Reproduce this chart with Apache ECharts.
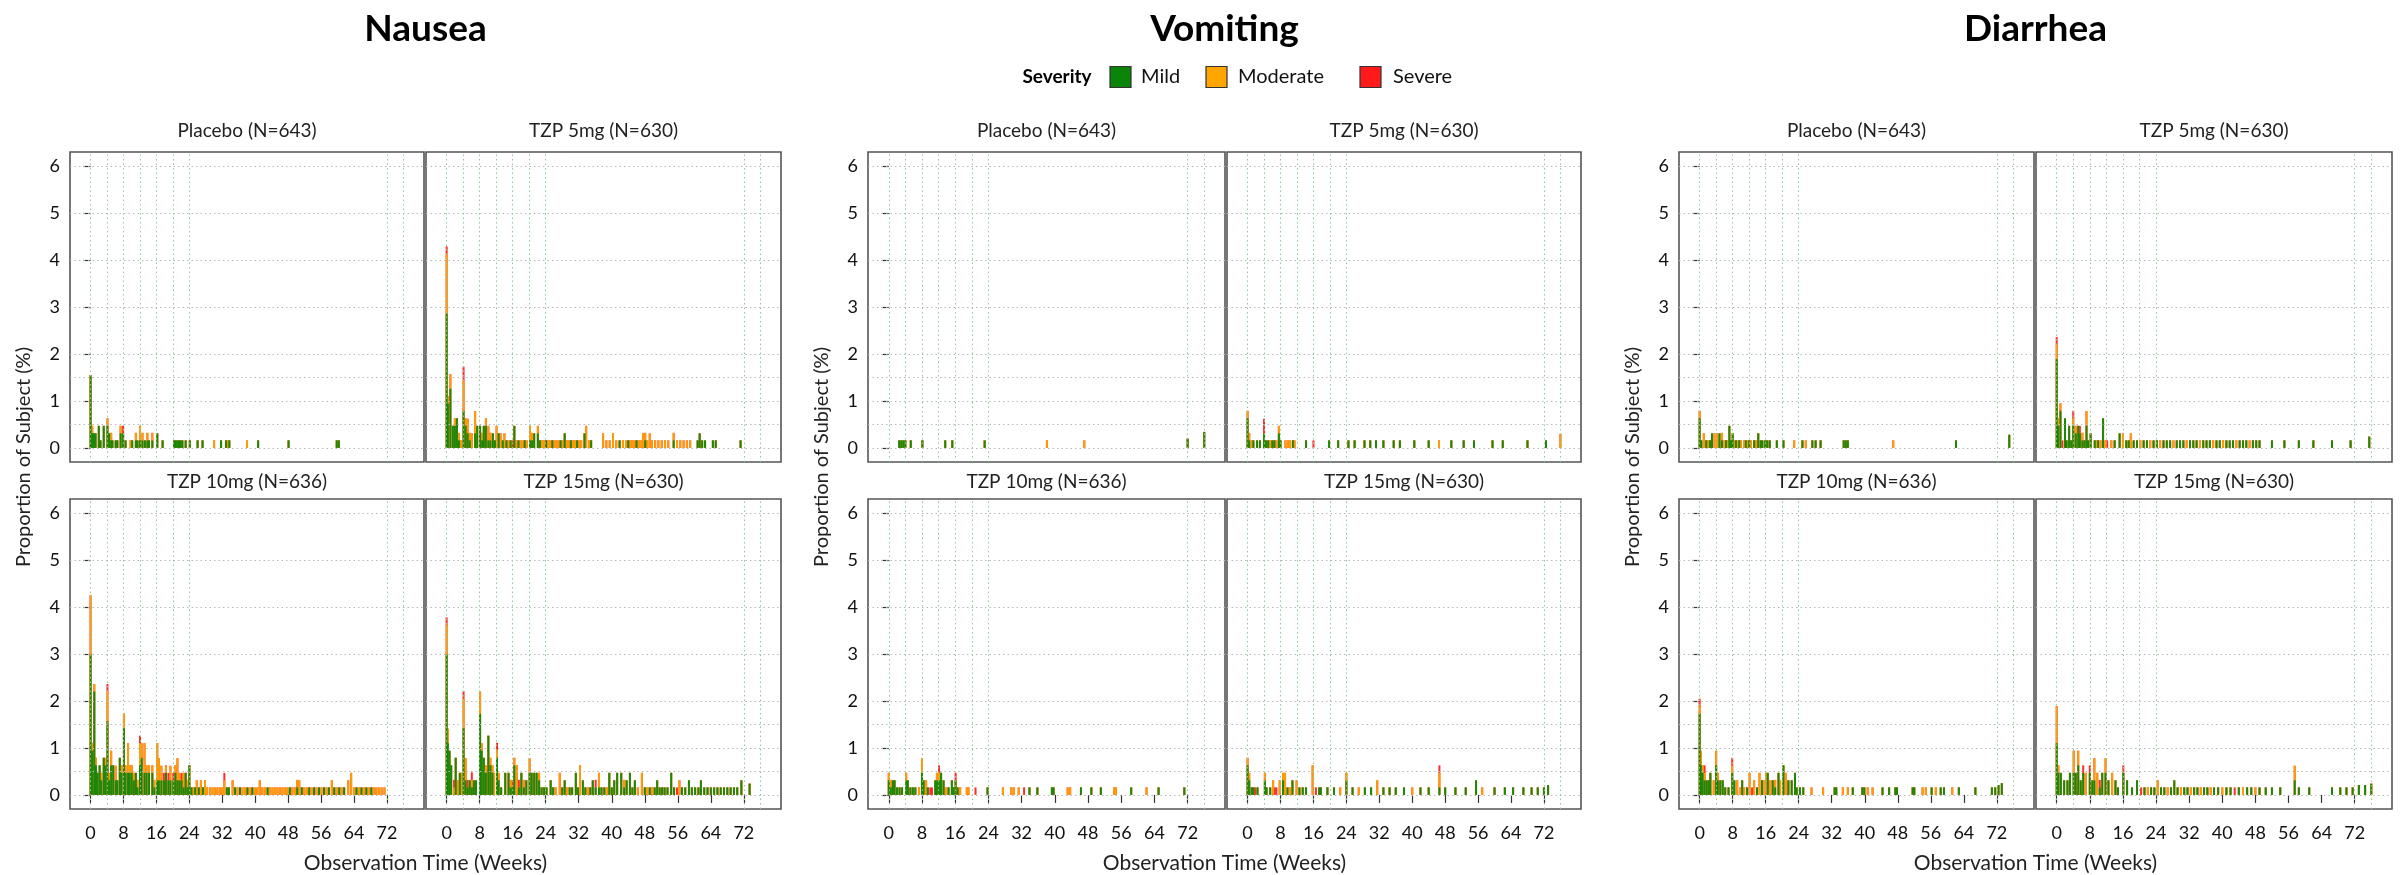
<!DOCTYPE html>
<html><head><meta charset="utf-8">
<script src="https://cdn.jsdelivr.net/npm/echarts@6/dist/echarts.min.js"></script>
<style>html,body{margin:0;padding:0;background:#fff}#chart{width:2404px;height:875px}</style>
</head><body><div id="chart"></div>
<script>
// ---------- labels ----------
const groups = ['Nausea', 'Vomiting', 'Diarrhea'];
const arms = ['Placebo (N=643)', 'TZP 5mg (N=630)', 'TZP 10mg (N=636)', 'TZP 15mg (N=630)'];
const severities = ['Mild', 'Moderate', 'Severe'];
const severityColors = ['#0a850a', '#FFA500', '#FF1A1A'];
const xTicks = [0, 8, 16, 24, 32, 40, 48, 56, 64, 72];
const yTicks = [0, 1, 2, 3, 4, 5, 6];
const hGridValues = [0, 0.5, 1, 1.5, 2, 3, 4, 5, 6];
const vGridValues = [0, 4, 8, 12, 16, 20, 24, 72, 76];
const yAxisName = 'Proportion of Subject (%)';
const xAxisName = 'Observation Time (Weeks)';
const legendTitle = 'Severity';

// ---------- data: [week, mild %, moderate %, severe %] ----------
const nauseaPlacebo = [
[0,1.55,0,0],[0.4,0.31,0.16,0],[0.8,0.31,0,0],[1.2,0.31,0,0],[2.0,0.47,0,0],[2.4,0.16,0,0],[3.2,0.47,0,0],
[4.1,0.47,0.16,0],[4.5,0.31,0,0],[5.0,0.16,0.16,0],[5.3,0.16,0,0],[6.1,0.16,0,0],[6.5,0.16,0,0],[7.3,0.31,0.16,0],
[7.9,0.31,0,0.16],[8.5,0.16,0,0],[9.7,0,0.16,0],[10.1,0.16,0,0],[11.0,0.16,0.16,0],[11.4,0.16,0,0],[12.0,0.16,0.31,0],
[12.6,0.16,0.16,0],[13.2,0.16,0,0],[13.8,0.16,0.16,0],[14.2,0.16,0,0],[15.0,0.16,0.16,0],[16.2,0.31,0,0],[17.5,0.16,0,0],
[20.3,0.16,0,0],[20.7,0.16,0,0],[21.1,0.16,0,0],[21.5,0.16,0,0],[21.9,0.16,0,0],[22.3,0.16,0,0],[23.1,0.16,0,0],[24.1,0.16,0,0],
[26.0,0.16,0,0],[27.2,0.16,0,0],[30.0,0,0.16,0],[31.7,0.16,0,0],[32.9,0.16,0,0],[33.3,0,0.16,0],[33.7,0.16,0,0],
[38.0,0,0.16,0],[40.7,0.16,0,0],[48.1,0.16,0,0],[59.8,0.16,0,0],[60.3,0.16,0,0]
];
const nausea5 = [
[0,2.86,1.27,0.16],[0.3,0.94,0.16,0],[0.9,1.26,0.31,0],[1.5,0.47,0,0],[2.0,0.47,0.16,0],[2.5,0.63,0,0],[3.0,0.16,0.16,0],
[3.5,0,0.16,0],[4.1,0.79,0.63,0.31],[4.6,0.47,0.16,0],[5.1,0.31,0.31,0],[5.6,0.16,0.16,0],[6.1,0,0.31,0],[6.9,0.31,0.47,0],
[7.4,0.47,0,0],[8.1,0.47,0,0],[8.6,0.16,0.16,0],[9.0,0.47,0,0],[9.5,0.47,0.16,0],[10.1,0.16,0.31,0],[10.6,0.16,0.16,0],
[11.2,0.31,0,0],[11.7,0.16,0,0],[12.1,0,0.47,0],[12.6,0.31,0,0],[13.1,0,0.31,0],[13.6,0.16,0,0],[14.0,0,0.31,0],[14.5,0.16,0,0],
[15.0,0,0.16,0],[15.5,0.16,0,0],[16.0,0,0,0.16],[16.4,0.47,0,0],[16.9,0,0.16,0],[17.4,0.16,0,0],[17.9,0,0.16,0],[18.4,0,0.16,0],
[18.9,0.16,0,0],[19.4,0,0.16,0],[20.2,0.16,0.31,0],[20.7,0.16,0.16,0],[21.2,0.31,0,0],[22.1,0.31,0.16,0],[22.6,0.16,0,0],
[23.1,0,0.16,0],[23.6,0,0.16,0],[24.1,0.16,0,0],[24.6,0,0.16,0],[25.1,0,0.16,0],[25.6,0.16,0,0],[26.1,0,0.16,0],[26.6,0,0.16,0],
[27.1,0,0.16,0],[27.6,0.16,0,0],[28.1,0,0.16,0],[28.6,0.31,0,0],[29.1,0,0.16,0],[29.6,0,0.16,0],[30.1,0.16,0,0],[30.6,0,0.16,0],
[31.1,0,0.16,0],[31.6,0.16,0,0],[32.1,0,0.16,0],[32.6,0,0.16,0],[33.4,0.31,0,0],[33.8,0,0.47,0],[34.5,0,0.16,0],[35.0,0.16,0,0],
[37.9,0,0.31,0],[38.7,0,0.16,0],[39.5,0,0.16,0],[40.3,0,0.31,0],[41.1,0,0.16,0],[41.9,0.16,0,0],[42.7,0,0.16,0],[43.5,0,0.16,0],
[44.0,0.16,0,0],[44.5,0,0.16,0],[45.0,0,0.16,0],[45.5,0,0.16,0],[46.0,0.16,0,0],[46.5,0,0.16,0],[47.0,0,0.16,0],[47.6,0,0.31,0],
[48.1,0.16,0.16,0],[48.6,0,0.16,0],[49.2,0,0.31,0],[49.7,0,0.16,0],[50.5,0,0.16,0],[51.3,0,0.16,0],[52.1,0,0.16,0],[52.9,0,0.16,0],
[53.7,0,0.16,0],[55.0,0.16,0.16,0],[55.8,0,0.16,0],[56.6,0,0.16,0],[57.4,0,0.16,0],[58.2,0,0.16,0],[59.0,0,0.16,0],[60.8,0.16,0,0],
[61.3,0.31,0,0],[61.9,0.16,0,0],[62.6,0.16,0,0],[64.5,0.16,0,0],[65.2,0.16,0,0],[71.2,0.16,0,0]
];
const nausea10 = [
[0,2.99,1.26,0],[0.4,0.94,0.16,0],[0.9,2.2,0.16,0],[1.3,0.63,0.16,0],[1.7,0.47,0,0],[2.2,0.63,0,0],[2.6,0.31,0.16,0],[3.2,0.79,0,0],
[3.6,0.63,0.16,0],[4.1,1.57,0.63,0.16],[4.5,0.31,0.16,0],[5.0,0.63,0.31,0],[5.5,0.63,0,0],[6.1,0.31,0.31,0],[6.5,0.31,0,0],
[7.1,0.79,0,0],[7.5,0.47,0.16,0],[8.1,1.42,0.31,0],[8.5,0.47,0.16,0],[9.1,0.47,0.63,0],[9.5,0.47,0.16,0],[10.0,0.47,0.16,0],
[10.5,0.31,0.16,0],[11.0,0.47,0,0],[11.4,0.16,0.16,0],[12.0,0.63,0.47,0.16],[12.4,0.79,0.31,0],[13.1,0.47,0.63,0],[13.6,0.47,0.16,0],
[14.2,0.47,0.16,0],[15.0,0.47,0.16,0],[15.5,0.16,0.16,0],[16.2,0.31,0.79,0],[16.6,0.31,0.47,0],[17.2,0.31,0.31,0],[17.8,0.31,0,0.16],
[18.3,0.47,0.16,0],[18.9,0.31,0,0.16],[19.4,0.31,0.31,0],[20.1,0.31,0,0.16],[20.6,0.47,0.16,0],[21.1,0.31,0.47,0],[21.6,0.31,0.16,0],
[22.1,0.31,0,0.16],[22.6,0.16,0.31,0],[23.1,0.47,0,0],[23.6,0.16,0.16,0],[24.0,0.63,0,0],[24.5,0.16,0,0],[25.0,0,0.16,0],
[25.4,0.16,0,0],[25.8,0,0.31,0],[26.3,0.16,0,0],[26.8,0,0.31,0],[27.3,0.16,0,0],[27.8,0,0.31,0],[28.3,0,0.16,0],[29.0,0,0.16,0],
[29.6,0,0.16,0],[30.2,0,0.16,0],[30.8,0,0.16,0],[31.4,0,0.16,0],[32.0,0,0.16,0],[32.5,0,0.31,0.16],[33.1,0.16,0,0],[33.6,0.16,0,0],
[34.5,0,0.31,0],[35.1,0.16,0,0],[35.7,0,0.16,0],[36.3,0.16,0,0],[36.9,0,0.16,0],[37.5,0,0.16,0],[38.1,0.16,0,0],[38.7,0,0.16,0],
[39.3,0.16,0,0],[39.9,0,0.16,0],[40.5,0,0.16,0],[41.1,0,0.31,0],[41.7,0,0.16,0],[42.3,0,0.16,0],[43.0,0.16,0,0],[43.6,0,0.16,0],
[44.2,0,0.16,0],[44.8,0,0.16,0],[45.4,0,0.16,0],[46.0,0,0.16,0],[46.6,0,0.16,0],[47.2,0,0.16,0],[47.8,0,0.16,0],[48.4,0.16,0,0],
[49.0,0,0.16,0],[49.6,0,0.16,0],[50.2,0.16,0.16,0],[50.7,0,0.31,0],[51.3,0.16,0,0],[51.9,0,0.16,0],[52.5,0,0.16,0],[53.1,0.16,0,0],
[53.7,0,0.16,0],[54.3,0.16,0,0],[54.9,0,0.16,0],[55.5,0.16,0,0],[56.1,0,0.16,0],[56.7,0.16,0,0],[57.3,0,0.16,0],[57.9,0.16,0,0],
[58.6,0,0.31,0],[59.2,0.16,0,0],[59.8,0,0.16,0],[60.4,0.16,0,0],[61.0,0,0.16,0],[61.6,0.16,0,0],[62.6,0,0.31,0],[63.3,0,0.47,0],
[64.0,0,0.16,0],[64.6,0.16,0,0],[65.2,0,0.16,0],[65.8,0.16,0,0],[66.4,0,0.16,0],[67.0,0.16,0,0],[67.6,0,0.16,0],[68.2,0.16,0,0],
[68.8,0,0.16,0],[69.4,0,0.16,0],[70.0,0,0.16,0],[70.7,0,0.16,0],[71.4,0,0.16,0]
];
const nausea15 = [
[0,2.99,0.63,0.16],[0.3,1.1,0.31,0],[0.7,0.94,0,0],[1.1,0.63,0,0],[1.8,0,0.16,0.16],[2.2,0.79,0,0],[2.8,0,0.31,0],[3.2,0.47,0,0],
[3.6,0,0.47,0],[4.1,1.42,0.63,0.16],[4.6,0.31,0.47,0],[5.1,0.16,0,0.16],[5.6,0.31,0,0],[6.1,0.16,0.16,0.16],[6.6,0.31,0,0],
[7.1,0.31,0,0],[8.1,1.73,0.47,0],[8.5,0.94,0.16,0],[9.0,0.79,0,0],[9.5,0.47,0.16,0],[10.1,1.26,0,0],[10.6,0.63,0.16,0],
[11.1,0.47,0.16,0],[11.5,0,0.47,0],[12.2,0.79,0.16,0.16],[12.6,0.31,0.16,0],[13.2,0.16,0,0],[14.2,0.47,0,0],[15.0,0.47,0,0],
[15.5,0.16,0.16,0],[16.0,0.16,0,0.16],[16.4,0.63,0.16,0],[17.0,0,0.63,0],[17.5,0.16,0,0.16],[18.1,0.47,0,0],[18.7,0.16,0.16,0],
[19.3,0.31,0,0],[20.1,0.47,0.31,0],[20.6,0.47,0,0],[21.2,0.47,0,0],[21.8,0.47,0,0],[22.4,0.31,0.16,0],[23.0,0.16,0,0],[23.6,0.16,0,0],
[24.2,0.16,0,0],[25.2,0.31,0,0],[25.8,0.16,0,0],[26.4,0,0.16,0],[27.4,0,0.47,0],[28.0,0.16,0,0],[28.6,0.31,0,0],[29.2,0,0.16,0],
[29.8,0.16,0,0],[30.4,0.16,0,0],[31.3,0.47,0,0],[31.8,0.16,0,0],[32.3,0,0.63,0],[33.0,0.31,0,0],[33.6,0.16,0,0],[34.2,0,0.16,0],
[34.8,0.16,0,0],[35.4,0.31,0,0],[36.1,0.16,0,0.16],[36.9,0.16,0.31,0],[37.5,0.16,0,0],[38.2,0.16,0,0],[38.8,0,0.16,0],[39.4,0.47,0,0],
[40.0,0.16,0,0],[40.6,0.31,0,0],[41.3,0.47,0,0],[42.3,0.47,0,0],[43.0,0.16,0.16,0],[43.6,0.31,0,0],[44.4,0.47,0,0],[45.0,0.16,0,0],
[45.6,0.31,0,0],[46.3,0,0.16,0],[47.3,0,0.47,0],[48.0,0.16,0,0],[48.6,0,0.16,0],[49.2,0.16,0,0],[49.8,0,0.16,0],[50.4,0.16,0,0],
[51.0,0.31,0,0],[51.6,0.16,0,0],[52.2,0.16,0,0],[52.8,0.16,0,0],[53.5,0.16,0,0],[54.4,0.47,0,0],[55.1,0.16,0,0],[55.8,0,0,0.16],
[56.4,0,0.31,0],[57.0,0.16,0,0],[57.8,0.16,0,0],[58.7,0.31,0,0],[59.4,0.16,0,0],[60.2,0.16,0,0],[61.0,0.16,0,0],[61.6,0.31,0,0],
[62.4,0.16,0,0],[63.2,0.16,0,0],[64.0,0.16,0,0],[64.8,0.16,0,0],[65.6,0.16,0,0],[66.4,0.16,0,0],[67.2,0.16,0,0],[68.0,0.16,0,0],
[68.8,0.16,0,0],[69.6,0.16,0,0],[70.4,0.16,0,0],[71.4,0.31,0,0],[73.4,0.24,0,0]
];
const vomitingPlacebo = [
[2.5,0.16,0,0],[3.0,0.16,0,0],[3.5,0.16,0,0],[4.0,0.16,0,0],[5.3,0.16,0,0],[8.1,0.16,0,0],[13.6,0.16,0,0],[15.3,0.16,0,0],
[23.1,0.16,0,0],[38.1,0,0.16,0],[47.1,0,0.16,0],[72.0,0.2,0,0],[76.0,0.34,0,0]
];
const vomiting5 = [
[0,0.63,0.16,0],[0.4,0.16,0.16,0],[1.0,0,0.16,0],[1.4,0.16,0,0],[2.3,0.16,0,0],[3.0,0.16,0,0],[4.0,0.31,0,0.31],[4.5,0.16,0,0],
[5.0,0.16,0,0],[5.5,0,0.16,0],[6.0,0.16,0,0],[6.5,0.16,0,0],[7.0,0,0.16,0],[7.6,0.31,0.16,0],[8.0,0.16,0,0],[9.2,0,0.16,0],
[9.8,0,0.16,0],[10.3,0,0.16,0],[11.0,0.16,0,0],[11.4,0,0.16,0],[14.2,0.16,0,0],[16.0,0,0,0.16],[19.8,0.16,0,0],[22.0,0.16,0,0],
[24.5,0.16,0,0],[26.0,0.16,0,0],[28.4,0.16,0,0],[29.8,0.16,0,0],[31.2,0.16,0,0],[33.0,0.16,0,0],[35.5,0.16,0,0],[37.0,0.16,0,0],
[40.5,0.16,0,0],[44.0,0.16,0,0],[46.5,0,0.16,0],[49.5,0.16,0,0],[52.5,0.16,0,0],[55.0,0.16,0,0],[59.5,0.16,0,0],[62.0,0.16,0,0],
[68.0,0.16,0,0],[72.5,0.16,0,0],[76.0,0,0.3,0]
];
const vomiting10 = [
[0,0.31,0.16,0],[0.5,0.16,0.16,0],[1.0,0.31,0,0],[1.4,0.31,0,0],[2.0,0.16,0,0],[2.6,0.16,0,0],[3.2,0.16,0,0],[4.2,0.31,0.16,0],
[4.6,0.31,0,0],[5.2,0.16,0,0],[5.8,0.16,0,0],[6.4,0.16,0,0],[7.3,0,0.16,0],[8.0,0.47,0.31,0],[8.4,0.31,0,0],[9.0,0,0.31,0],
[9.4,0.16,0,0],[10.0,0,0,0.16],[10.4,0,0,0.16],[11.2,0.31,0,0],[11.6,0.31,0.16,0],[12.1,0.31,0.16,0.16],[12.6,0.47,0,0],
[13.2,0.31,0,0],[13.7,0,0.16,0],[14.4,0.16,0,0],[15.2,0.31,0,0],[15.6,0.16,0,0],[16.1,0.31,0,0.16],[16.6,0.16,0,0],[17.2,0,0.16,0],
[18.8,0,0.16,0],[19.2,0,0.16,0],[20.9,0,0,0.16],[23.8,0.16,0,0],[27.5,0,0.16,0],[29.5,0,0.16,0],[30.1,0,0.16,0],[31.3,0,0.16,0],
[32.6,0,0,0.16],[33.9,0.16,0,0],[35.8,0.16,0,0],[39.3,0.16,0,0],[39.7,0.16,0,0],[43.1,0,0.16,0],[43.7,0,0.16,0],[46.3,0.16,0,0],
[48.8,0.16,0,0],[51.1,0.16,0,0],[54.3,0,0.16,0],[54.7,0,0.16,0],[58.4,0.16,0,0],[62.1,0,0.16,0],[65.0,0.16,0,0],[71.2,0.16,0,0]
];
const vomiting15 = [
[0,0.63,0.16,0],[0.4,0.31,0.16,0],[1.0,0.16,0,0],[1.4,0.16,0,0],[1.8,0,0,0.16],[2.4,0.16,0,0],[4.2,0.31,0.16,0],[4.6,0.16,0,0],
[5.5,0.16,0,0],[6.2,0,0.31,0],[6.6,0,0,0.16],[7.0,0,0,0.16],[7.8,0,0.31,0],[8.6,0.31,0.16,0],[9.1,0,0.47,0],[9.7,0.16,0,0],
[10.3,0,0.16,0],[10.9,0.31,0,0],[11.9,0,0.31,0],[12.6,0.16,0,0],[13.4,0.16,0,0],[14.2,0.16,0,0],[15.8,0,0.63,0],[16.6,0,0,0.16],
[17.4,0.16,0,0],[17.8,0.16,0,0],[19.4,0.16,0,0],[21.0,0.16,0,0],[22.5,0,0.16,0],[24.0,0.31,0.16,0],[25.5,0.16,0,0],[27.0,0,0.16,0],
[28.5,0.16,0,0],[30.0,0.16,0,0],[31.5,0,0.31,0],[33.0,0.16,0,0],[34.5,0.16,0,0],[36.0,0.16,0,0],[38.0,0.16,0,0],[40.0,0,0.16,0],
[42.0,0.16,0,0],[44.0,0.16,0,0],[46.6,0.16,0.31,0.16],[48.0,0.16,0,0],[50.5,0.16,0,0],[53.0,0.16,0,0],[55.5,0.31,0,0],[57.0,0,0.16,0],
[60.0,0.16,0,0],[62.5,0.16,0,0],[64.5,0.16,0,0],[67.0,0.16,0,0],[69.0,0.16,0,0],[70.5,0.16,0,0],[72.0,0.16,0,0],[73.0,0.21,0,0]
];
const diarrheaPlacebo = [
[0,0.63,0.16,0],[0.4,0.16,0,0],[1.0,0,0.31,0],[1.6,0.16,0,0],[2.0,0,0.16,0],[2.5,0.16,0,0],[3.0,0.31,0,0],[3.6,0,0.31,0],
[4.2,0,0.31,0],[4.8,0.31,0,0],[5.4,0.16,0.16,0],[6.0,0,0.16,0],[6.4,0.16,0,0],[6.8,0,0.16,0],[7.2,0.47,0,0],[7.6,0.16,0,0],
[8.0,0.31,0,0],[8.4,0,0.16,0],[8.8,0.16,0,0],[9.2,0,0.16,0],[9.6,0.16,0,0],[10.0,0,0.16,0],[10.8,0,0.16,0],[11.2,0.16,0,0],
[11.6,0,0.16,0],[12.0,0.16,0,0],[12.4,0,0.16,0],[13.2,0.16,0,0],[13.6,0,0.16,0],[14.2,0.31,0,0],[14.8,0.16,0,0],[15.2,0.16,0,0],
[15.9,0.16,0,0],[16.4,0.16,0,0],[17.0,0.16,0,0],[18.7,0.16,0,0],[20.3,0.16,0,0],[22.9,0,0.16,0],[24.9,0.16,0,0],[25.7,0,0.16,0],
[27.3,0.16,0,0],[28.1,0.16,0,0],[29.3,0.16,0,0],[34.9,0.16,0,0],[35.4,0.16,0,0],[35.9,0.16,0,0],[46.9,0,0.16,0],[62.1,0.16,0,0],
[75.0,0.28,0,0]
];
const diarrhea5 = [
[0,1.89,0.31,0.16],[0.3,0.47,0.16,0],[0.9,0.79,0.16,0],[1.4,0,0,0.16],[2.0,0.63,0,0],[2.4,0.16,0,0],[3.0,0.47,0,0],[3.5,0.16,0,0],
[4.0,0.47,0.16,0.16],[4.6,0.31,0.16,0],[5.2,0.47,0,0],[5.6,0.31,0,0.16],[6.2,0.16,0.16,0],[6.7,0.16,0,0],[7.2,0.47,0.31,0],
[7.6,0.16,0,0],[8.2,0.31,0,0],[9.2,0.16,0,0],[9.6,0,0.16,0],[10.0,0.16,0,0],[10.6,0,0.16,0],[11.2,0.63,0,0],[11.8,0,0.16,0],
[12.2,0,0,0.16],[13.2,0,0.16,0],[14.0,0.16,0,0],[15.2,0.31,0,0],[16.0,0,0.31,0],[16.8,0.16,0,0],[17.4,0.16,0,0],[17.9,0,0.31,0],
[18.6,0.16,0,0],[19.4,0.16,0,0],[20.2,0,0.16,0],[21.0,0.16,0,0],[21.8,0.16,0,0],[22.6,0,0.16,0],[23.4,0.16,0,0],[24.2,0.16,0,0],
[25.0,0,0.16,0],[25.8,0.16,0,0],[26.6,0.16,0,0],[27.4,0.16,0,0],[28.2,0,0.16,0],[29.0,0.16,0,0],[29.8,0.16,0,0],[30.6,0.16,0,0],
[31.4,0,0.16,0],[32.2,0.16,0,0],[33.0,0.16,0,0],[33.8,0.16,0,0],[34.6,0,0.16,0],[35.4,0.16,0,0],[36.2,0.16,0,0],[37.0,0.16,0,0],
[37.8,0,0.16,0],[38.6,0.16,0,0],[39.4,0.16,0,0],[40.2,0,0.16,0],[41.0,0.16,0,0],[41.8,0.16,0,0],[42.6,0.16,0,0],[43.4,0,0.16,0],
[44.2,0.16,0,0],[45.0,0.16,0,0],[45.8,0.16,0,0],[46.6,0,0.16,0],[47.4,0.16,0,0],[48.2,0.16,0,0],[49.0,0.16,0,0],[52.0,0.16,0,0],
[55.0,0.16,0,0],[58.5,0.16,0,0],[62.0,0.16,0,0],[66.5,0.16,0,0],[71.0,0.16,0,0],[75.5,0.24,0,0]
];
const diarrhea10 = [
[0,1.73,0.16,0.16],[0.3,0.63,0.31,0],[0.7,0.47,0.16,0],[1.2,0.31,0.16,0.16],[1.7,0.31,0,0],[2.2,0.31,0,0],[2.6,0.47,0,0],
[3.4,0,0.31,0],[4.0,0.63,0.31,0],[4.4,0.31,0.16,0],[5.0,0.31,0,0],[5.6,0.31,0,0],[6.2,0.16,0,0],[7.0,0.16,0,0],[7.9,0.47,0.16,0.16],
[8.4,0.31,0,0],[9.1,0,0.31,0],[9.9,0,0.16,0],[10.3,0.31,0,0],[10.8,0,0.16,0],[11.5,0.16,0,0],[12.1,0,0.47,0],[12.7,0,0,0.16],
[13.2,0,0.31,0],[13.9,0.16,0,0],[14.5,0,0.47,0],[15.1,0.31,0,0],[15.5,0,0.31,0],[16.1,0,0.47,0],[16.5,0.47,0,0],[17.1,0,0.31,0],
[17.7,0.31,0,0],[18.3,0.16,0.16,0],[19.1,0.47,0,0],[19.5,0,0.31,0],[20.3,0.63,0,0],[20.9,0,0.47,0],[21.5,0.31,0,0],[22.3,0.31,0,0],
[23.1,0.47,0,0],[23.5,0.16,0,0],[24.3,0.16,0,0],[25.1,0.16,0,0],[27.1,0,0.16,0],[29.9,0,0.16,0],[32.7,0.16,0,0],[33.1,0.16,0,0],
[34.7,0,0.16,0],[35.9,0,0.16,0],[37.1,0.16,0,0],[39.4,0.16,0,0],[39.9,0.16,0,0],[40.7,0,0.16,0],[41.9,0,0.16,0],[44.3,0.16,0,0],
[45.9,0.16,0,0],[47.4,0.16,0,0],[47.8,0.16,0,0],[51.6,0.16,0,0],[52.0,0.16,0,0],[54.0,0,0.16,0],[54.8,0,0.16,0],[56.2,0.16,0,0],
[57.2,0,0.16,0],[58.4,0.16,0,0],[59.2,0.16,0,0],[61.2,0,0.16,0],[62.8,0.16,0,0],[66.8,0.16,0,0],[70.8,0.16,0,0],[71.6,0.16,0,0],
[72.4,0.21,0,0],[73.2,0.25,0,0]
];
const diarrhea15 = [
[0,1.1,0.79,0],[0.4,0.47,0.16,0],[1.0,0.47,0,0],[1.8,0.31,0,0],[2.6,0.31,0,0],[3.2,0.47,0,0],[4.1,0.47,0.47,0],[4.6,0.47,0,0],
[5.2,0.63,0.31,0],[5.8,0.31,0,0],[6.4,0.47,0,0.16],[7.0,0,0.47,0],[8.0,0.47,0,0.16],[8.6,0.31,0,0],[9.1,0.31,0.47,0],[9.8,0,0.47,0],
[10.4,0.16,0,0.16],[11.0,0.47,0,0],[11.8,0.47,0.31,0],[12.5,0.31,0,0],[13.4,0,0.47,0],[14.2,0.31,0,0],[14.8,0.16,0,0],
[16.1,0.47,0,0.16],[17.0,0.31,0,0],[18.2,0.16,0,0],[19.4,0.31,0,0],[20.4,0,0,0.16],[21.2,0.16,0,0],[22.0,0,0.16,0],[22.8,0.16,0,0],
[23.6,0.16,0,0],[24.4,0,0.31,0],[25.2,0.16,0,0],[26.0,0.16,0,0],[26.8,0,0.16,0],[27.6,0.16,0,0],[28.4,0.31,0,0],[29.2,0.16,0,0],
[30.0,0,0.16,0],[30.8,0.16,0,0],[31.6,0.16,0,0],[32.4,0,0.16,0],[33.2,0.16,0,0],[34.0,0.16,0,0],[34.8,0,0.16,0],[35.6,0.16,0,0],
[36.4,0.16,0,0],[37.2,0,0.16,0],[38.0,0.16,0,0],[39.0,0.16,0,0],[40.0,0,0.16,0],[41.0,0.16,0,0],[42.0,0.16,0,0],[43.0,0,0,0.16],
[44.0,0.16,0,0],[45.0,0,0.16,0],[46.0,0.16,0,0],[47.0,0.16,0,0],[48.0,0,0.16,0],[49.0,0.16,0,0],[50.5,0.16,0,0],[52.0,0.16,0,0],
[54.0,0.16,0,0],[57.5,0.31,0.31,0],[58.5,0.16,0,0],[61.0,0.16,0,0],[66.5,0.16,0,0],[68.5,0.16,0,0],[70.0,0.16,0,0],[71.5,0.16,0,0],
[73.0,0.21,0,0],[74.5,0.21,0,0],[76.0,0.24,0,0]
];
const panelData = [
  [nauseaPlacebo, nausea5, nausea10, nausea15],
  [vomitingPlacebo, vomiting5, vomiting10, vomiting15],
  [diarrheaPlacebo, diarrhea5, diarrhea10, diarrhea15]
];

// ---------- layout ----------
const FONT = 'Lato, "Noto Sans", sans-serif';
const groupLeft = [70, 868, 1679];
const subWidth = [[354, 355], [357, 354], [355, 356]];
const rowTop = [152, 499];
const gridHeight = 310;

const grids = [], xAxes = [], yAxes = [], series = [], graphics = [];
let idx = 0;
groups.forEach((g, gi) => {
  const gCenter = (groupLeft[gi] + groupLeft[gi] + subWidth[gi][0] + 2 + subWidth[gi][1]) / 2;
  graphics.push({type: 'text', x: gCenter, y: 29, style: {text: g, font: 'bold 37px ' + FONT, fill: '#000', textAlign: 'center', textVerticalAlign: 'middle'}});
  graphics.push({type: 'text', x: gCenter, y: 863, style: {text: xAxisName, font: '21px ' + FONT, fill: '#222', textAlign: 'center', textVerticalAlign: 'middle'}});
  graphics.push({type: 'text', x: groupLeft[gi] - 46, y: 457, rotation: Math.PI / 2, style: {text: yAxisName, font: '20px ' + FONT, fill: '#222', textAlign: 'center', textVerticalAlign: 'middle'}});
  arms.forEach((arm, ai) => {
    const col = ai % 2, row = Math.floor(ai / 2);
    const left = groupLeft[gi] + (col ? subWidth[gi][0] + 2 : 0);
    const width = subWidth[gi][col];
    grids.push({left: left, top: rowTop[row], width: width, height: gridHeight, show: true, borderColor: '#555', borderWidth: 1.6, backgroundColor: 'transparent'});
    graphics.push({type: 'text', x: left + width / 2, y: row ? 482 : 131, style: {text: arm, font: '19px ' + FONT, fill: '#222', textAlign: 'center', textVerticalAlign: 'middle'}});
    xAxes.push({
      gridIndex: idx, type: 'value', min: -5, max: 81,
      axisLine: {show: false}, splitLine: {show: false},
      axisTick: {show: row === 1, customValues: xTicks, length: 8, lineStyle: {color: '#333', width: 1.2}},
      axisLabel: {show: row === 1, customValues: xTicks, fontSize: 18, fontFamily: FONT, color: '#111', margin: 15}
    });
    yAxes.push({
      gridIndex: idx, type: 'value', min: -0.3, max: 6.3,
      axisLine: {show: false}, splitLine: {show: false},
      axisTick: {show: col === 0, customValues: yTicks, length: 7, lineStyle: {color: '#333', width: 1.2}},
      axisLabel: {show: col === 0, customValues: yTicks, fontSize: 18, fontFamily: FONT, color: '#111', margin: 10}
    });
    // reference lines (dotted grid)
    series.push({
      type: 'line', xAxisIndex: idx, yAxisIndex: idx, data: [], silent: true, z: 1,
      markLine: {
        silent: true, symbol: ['none', 'none'], animation: false, label: {show: false},
        data: hGridValues.map(v => ({yAxis: v, lineStyle: {color: '#b8b8b8', type: [1.5, 3], width: 1}}))
          .concat(vGridValues.map(v => ({xAxis: v, lineStyle: {color: '#8cc98c', type: [1.5, 3], width: 1}})))
      }
    });
    const rows = panelData[gi][ai];
    // overlaid cumulative bars: Severe (top) drawn first, then Moderate, then Mild
    [2, 1, 0].forEach(k => {
      series.push({
        type: 'bar', name: severities[k], xAxisIndex: idx, yAxisIndex: idx,
        barWidth: 2, barGap: '-100%', silent: true, z: 2, animation: false,
        itemStyle: {color: severityColors[k], opacity: 0.92},
        data: rows.map(r => {
          let s = 0; for (let j = 0; j <= k; j++) s += r[j + 1];
          return [r[0], +s.toFixed(3)];
        })
      });
    });
    idx++;
  });
});

// legend
const legendY = 77;
graphics.push({type: 'text', x: 1057, y: legendY, style: {text: legendTitle, font: 'bold 19px ' + FONT, fill: '#000', textAlign: 'center', textVerticalAlign: 'middle'}});
const legendBoxX = [1110, 1206, 1360];
const legendTextX = [1141, 1238, 1393];
severities.forEach((s, k) => {
  graphics.push({type: 'rect', shape: {x: legendBoxX[k], y: legendY - 10.5, width: 21, height: 21}, style: {fill: severityColors[k], stroke: '#333', lineWidth: 1.2}});
  graphics.push({type: 'text', x: legendTextX[k], y: legendY, style: {text: s, font: '20px ' + FONT, fill: '#111', textAlign: 'left', textVerticalAlign: 'middle'}});
});

const chart = echarts.init(document.getElementById('chart'), null, {renderer: 'canvas'});
chart.setOption({
  animation: false,
  backgroundColor: '#fff',
  grid: grids, xAxis: xAxes, yAxis: yAxes, series: series,
  graphic: {elements: graphics}
});
</script></body></html>
